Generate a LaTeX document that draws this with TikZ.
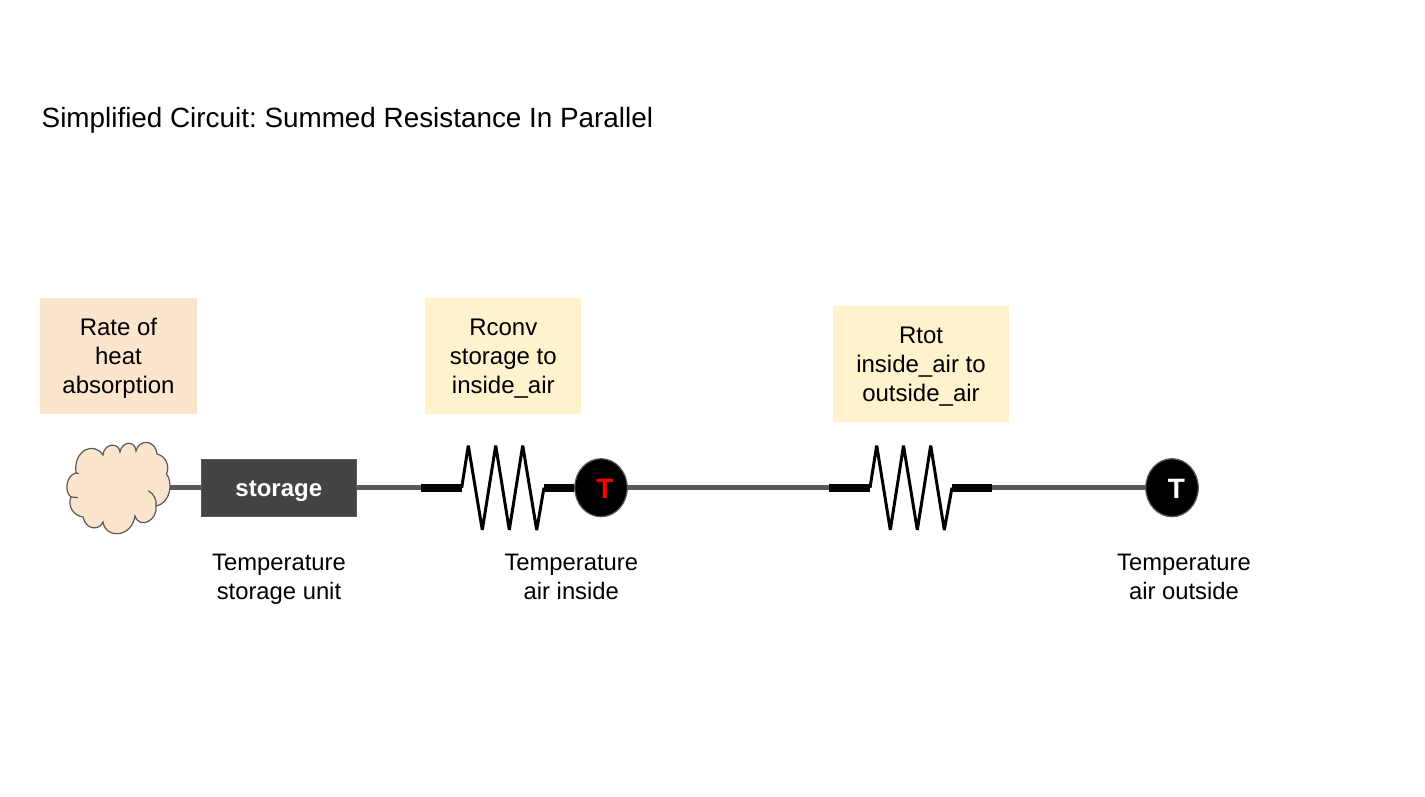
\documentclass[tikz,border=0pt]{standalone}
\usepackage{fontspec}
\setmainfont{Liberation Sans}
\usetikzlibrary{shapes.geometric}
\frenchspacing
\definecolor{wire}{HTML}{595959}
\definecolor{edge}{HTML}{595959}
\definecolor{peach}{HTML}{FCE5CD}
\definecolor{butter}{HTML}{FFF2CC}
\definecolor{slate}{HTML}{434343}
\tikzset{
  wireline/.style={draw=wire,line width=5pt},
  leadline/.style={draw=black,line width=8pt},
  zigline/.style={draw=black,line width=3pt,line join=bevel},
  notebox/.style={inner sep=0pt},
  notetext/.style={inner sep=0pt,align=center,font=\fontsize{24}{28.9}\selectfont},
  caption/.style={inner sep=0pt,align=center,font=\fontsize{23.8}{28.9}\selectfont},
  sensor/.style={ellipse,draw=edge,fill=black,line width=1.2pt,minimum width=52.5pt,minimum height=58pt,inner sep=0pt},
  tlabel/.style={inner sep=0pt,font=\fontsize{28}{30}\selectfont\bfseries},
  cloudline/.style={draw=edge,line width=1.2pt},
}
\begin{document}
\begin{tikzpicture}[x=1pt,y=-1pt]
\useasboundingbox (0,0) rectangle (1425,797);
\node[anchor=west,inner sep=0pt,font=\fontsize{27.85}{34}\selectfont] (title) at (41.5,120.5) {Simplified Circuit: Summed Resistance In Parallel};

% coordinates
\coordinate (cloudR) at (165,487.7);
\coordinate (r1a) at (421,487.7);
\coordinate (r1b) at (461.7,487.7);
\coordinate (r1c) at (544,487.7);
\coordinate (r2a) at (829,487.7);
\coordinate (r2b) at (870,487.7);
\coordinate (r2c) at (952,487.7);
\coordinate (r2d) at (992,487.7);
\coordinate (midA) at (667,487.7);
\coordinate (midB) at (662,487);
\coordinate (midC) at (829,487);

% nodes
\node[fill=slate,draw=edge,line width=0.8pt,minimum width=155.5pt,minimum height=57pt,inner sep=0pt,
  label={[yshift=-4pt,inner sep=0pt,text=white,font=\fontsize{24}{28}\selectfont\bfseries]center:storage}] (storage) at (278.8,487.7) {};
\node[sensor] (t1) at (601,487.7) {};
\node[sensor] (t2) at (1172,487.7) {};

% wires
\draw[wireline] (cloudR) -- (storage.west);
\draw[wireline] (storage.east) -- (r1a);
\draw[wireline] (t1.east) -- (midA);
\draw[wireline] (midB) -- (midC);
\draw[wireline] (r2d) -- (t2.west);

% resistors
\draw[leadline] (r1a) -- (r1b);
\draw[leadline] (r1c) -- (t1.west);
\draw[zigline] (r1b) -- (468.3,445.5) -- (482.3,530) -- (495.7,445.5) -- (509.3,530) -- (522.7,445.5) -- (536.7,530) -- (r1c);
\draw[leadline] (r2a) -- (r2b);
\draw[leadline] (r2c) -- (r2d);
\draw[zigline] (r2b) -- (876.7,445.5) -- (890.3,530) -- (903.5,445.5) -- (917.3,530) -- (930.7,445.5) -- (944.3,530) -- (r2c);

\node[tlabel,text=red] (tt1) at (605,489) {T};
\node[tlabel,text=white] (tt2) at (1176.3,489) {T};

% cloud
\draw[fill=peach,cloudline]
  (76,473) .. controls (73,450) and (94,441) .. (103,455)
  .. controls (104,443) and (119,442) .. (120,452)
  .. controls (122,441) and (135,440) .. (136,451)
  .. controls (139,439) and (155,439) .. (157,454)
  .. controls (166,456) and (170,466) .. (166.5,474)
  .. controls (173,482) and (171,503) .. (156,506)
  .. controls (158,520) and (140,530) .. (135,516)
  .. controls (132,537) and (106,540) .. (103,522)
  .. controls (99,531) and (86,530) .. (83,517)
  .. controls (74,516) and (67,506) .. (71,497)
  .. controls (64,492) and (66,475) .. (76,473) -- cycle;
\draw[cloudline] (148.3,490.7) .. controls (154,494) and (157,500) .. (156,506);
\draw[cloudline] (71,497) -- (78,497.5);
\draw[cloudline] (76,473) -- (79,473.5);

% note boxes
\node[notebox,fill=peach,minimum width=157pt,minimum height=116pt] (n1) at (118.5,356) {};
\node[notebox,fill=butter,minimum width=156pt,minimum height=116pt] (n2) at (503,356) {};
\node[notebox,fill=butter,minimum width=176pt,minimum height=116pt] (n3) at (921,364) {};
\node[notetext] (n1t) at (118.5,358.5) {Rate of\\heat\\absorption};
\node[notetext] (n2t) at (503.3,358.5) {Rconv\\storage to\\inside\_air};
\node[notetext] (n3t) at (921,366.5) {Rtot\\inside\_air to\\outside\_air};

% captions
\node[caption] (c1) at (279,579) {Temperature\\storage unit};
\node[caption] (c2) at (571.3,577) {Temperature\\air inside};
\node[caption] (c3) at (1184,577) {Temperature\\air outside};
\end{tikzpicture}
\end{document}
